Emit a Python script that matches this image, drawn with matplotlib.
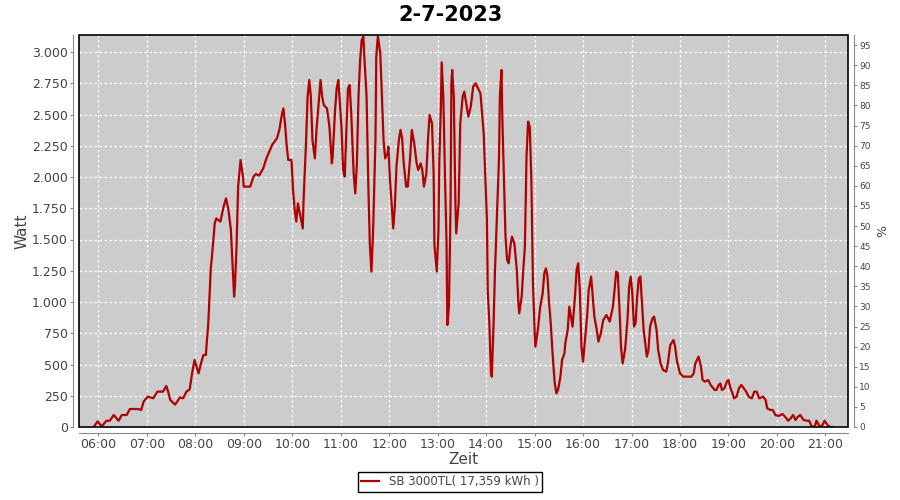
import matplotlib
matplotlib.use("Agg")
import matplotlib.pyplot as plt
import matplotlib.dates as mdates
import matplotlib.ticker as mticker
from matplotlib.patches import Rectangle
import pandas as pd

# ------------------------------------------------------------
# Daten
# ------------------------------------------------------------
zeiten = [
    "05:54", "05:59", "06:04", "06:10", "06:14", "06:19", "06:25", "06:29", "06:35", "06:39",
    "06:49", "06:53", "06:56", "07:01", "07:08", "07:13", "07:20", "07:24", "07:26", "07:29",
    "07:35", "07:41", "07:45", "07:49", "07:53", "07:56", "07:59", "08:04", "08:07", "08:10",
    "08:13", "08:16", "08:17", "08:19", "08:22", "08:24", "08:26", "08:31", "08:35", "08:38",
    "08:41", "08:44", "08:46", "08:48", "08:49", "08:51", "08:53", "08:56", "08:59", "09:00",
    "09:08", "09:12", "09:15", "09:19", "09:24", "09:28", "09:32", "09:35", "09:41", "09:44",
    "09:47", "09:49", "09:51", "09:53", "09:55", "09:59", "10:01", "10:03", "10:05", "10:07",
    "10:09", "10:13", "10:14", "10:17", "10:19", "10:21", "10:23", "10:25", "10:28", "10:30",
    "10:32", "10:35", "10:37", "10:39", "10:43", "10:46", "10:49", "10:50", "10:53", "10:55",
    "10:57", "10:59", "11:01", "11:03", "11:05", "11:07", "11:09", "11:11", "11:13", "11:16",
    "11:18", "11:20", "11:22", "11:24", "11:26", "11:28", "11:29", "11:32", "11:34", "11:36",
    "11:38", "11:40", "11:43", "11:44", "11:46", "11:49", "11:51", "11:53", "11:55", "11:58",
    "11:59", "12:01", "12:03", "12:05", "12:07", "12:09", "12:12", "12:14", "12:16", "12:18",
    "12:21", "12:23", "12:26", "12:28", "12:31", "12:34", "12:36", "12:39", "12:41", "12:43",
    "12:46", "12:48", "12:50", "12:53", "12:55", "12:56", "12:59", "13:01", "13:02", "13:04",
    "13:05", "13:07", "13:09", "13:11", "13:12", "13:14", "13:16", "13:17", "13:18", "13:20",
    "13:22", "13:23", "13:26", "13:28", "13:31", "13:33", "13:36", "13:38", "13:41", "13:44",
    "13:47", "13:50", "13:53", "13:55", "13:57", "13:59", "14:01", "14:02", "14:04", "14:06",
    "14:07", "14:09", "14:11", "14:14", "14:16", "14:17", "14:19", "14:20", "14:22", "14:24",
    "14:26", "14:28", "14:30", "14:32", "14:35", "14:38", "14:40", "14:41", "14:44", "14:46",
    "14:48", "14:50", "14:52", "14:54", "14:56", "14:58", "15:00", "15:01", "15:04", "15:07",
    "15:10", "15:12", "15:14", "15:16", "15:18", "15:20", "15:22", "15:24", "15:25", "15:27",
    "15:29", "15:32", "15:34", "15:37", "15:38", "15:41", "15:43", "15:45", "15:47", "15:50",
    "15:52", "15:54", "15:56", "15:58", "16:00", "16:02", "16:05", "16:07", "16:10", "16:11",
    "16:14", "16:17", "16:19", "16:22", "16:25", "16:29", "16:33", "16:37", "16:39", "16:41",
    "16:43", "16:45", "16:47", "16:49", "16:52", "16:55", "16:57", "16:59", "17:01", "17:03",
    "17:05", "17:07", "17:09", "17:11", "17:13", "17:15", "17:19", "17:21", "17:23", "17:26",
    "17:28", "17:31", "17:33", "17:36", "17:39", "17:43", "17:45", "17:48", "17:52", "17:54",
    "17:56", "18:00", "18:04", "18:08", "18:14", "18:17", "18:19", "18:21", "18:23", "18:26",
    "18:28", "18:31", "18:35", "18:38", "18:43", "18:45", "18:48", "18:50", "18:52", "18:55",
    "18:58", "19:00", "19:02", "19:05", "19:07", "19:10", "19:13", "19:16", "19:19", "19:22",
    "19:25", "19:29", "19:32", "19:35", "19:38", "19:43", "19:46", "19:48", "19:52", "19:55",
    "19:58", "20:02", "20:07", "20:10", "20:14", "20:17", "20:20", "20:23", "20:26", "20:29",
    "20:33", "20:37", "20:40", "20:43", "20:47", "20:49", "20:53", "20:56", "20:59", "21:03",
    "21:06", "21:09",
]

watt = [
    0, 45, 5, 50, 50, 96, 50, 96, 96, 144,
    144, 136, 203, 243, 230, 283, 283, 328, 290, 216,
    179, 237, 230, 283, 301, 429, 536, 429, 509, 576,
    576, 829, 963, 1256, 1469, 1629, 1669, 1643, 1763, 1829,
    1736, 1576, 1309, 1043, 1122, 1443, 1923, 2136, 2003, 1923,
    1923, 2003, 2024, 2011, 2069, 2149, 2211, 2256, 2309, 2376,
    2496, 2549, 2429, 2256, 2136, 2136, 1896, 1736, 1643, 1789,
    1723, 1589, 1816, 2269, 2643, 2776, 2643, 2296, 2149, 2376,
    2536, 2776, 2643, 2576, 2549, 2403, 2109, 2163, 2536, 2709,
    2776, 2589, 2389, 2056, 2003, 2376, 2709, 2736, 2509, 2029,
    1869, 2109, 2643, 2936, 3096, 3123, 2989, 2643, 1976, 1469,
    1243, 1549, 2296, 2963, 3128, 2989, 2643, 2296, 2149, 2189,
    2243, 1976, 1789, 1589, 1763, 2083, 2296, 2376, 2309, 2109,
    1923, 1923, 2163, 2376, 2269, 2109, 2056, 2109, 2056, 1923,
    2029, 2296, 2496, 2429, 2029, 1456, 1243, 1576, 2109, 2563,
    2917, 2643, 2029, 1469, 816, 963, 1789, 2749, 2856, 2643,
    1789, 1549, 1789, 2429, 2643, 2683, 2563, 2483, 2563, 2723,
    2749, 2709, 2669, 2509, 2349, 2003, 1656, 1096, 829, 429,
    403, 776, 1256, 1789, 2163, 2643, 2856, 2483, 2003, 1523,
    1336, 1309, 1443, 1523, 1469, 1256, 989, 909, 1043, 1256,
    1443, 2163, 2443, 2403, 1976, 1149, 776, 643, 776, 963,
    1069, 1229, 1269, 1203, 989, 829, 616, 429, 349, 269,
    296, 403, 536, 589, 669, 776, 963, 883, 803, 1043,
    1256, 1309, 1096, 643, 523, 669, 883, 1096, 1203, 1122,
    883, 776, 683, 749, 856, 896, 843, 963, 1096, 1243,
    1230, 963, 643, 509, 616, 856, 1122, 1203, 1069, 803,
    829, 1043, 1189, 1203, 989, 776, 563, 616, 803, 869,
    883, 776, 616, 509, 456, 443, 509, 656, 696, 643,
    536, 429, 403, 403, 403, 429, 509, 536, 563, 483,
    376, 363, 376, 336, 296, 296, 336, 349, 296, 309,
    363, 376, 323, 269, 229, 243, 309, 336, 309, 283,
    243, 229, 283, 283, 229, 243, 216, 149, 136, 136,
    96, 88, 104, 83, 50, 69, 96, 56, 83, 96,
    56, 50, 50, 5, 5, 50, 5, 10, 50, 13,
    0, 0,
]

datum = "2023-07-02"
titel = "2-7-2023"
legende = "SB 3000TL( 17,359 kWh )"
nennleistung = 3216  # Watt fuer 100 %

# ------------------------------------------------------------
# Diagramm
# ------------------------------------------------------------
zeit = pd.to_datetime([f"{datum} {z}" for z in zeiten])

text_farbe = "#444444"
achsen_farbe = "#888888"

fig = plt.figure(figsize=(9, 5), dpi=100)
ax = fig.add_axes([0.0878, 0.146, 0.8544, 0.784])
ax.set_facecolor("#CCCCCC")

linie, = ax.plot(zeit, watt, color="#B00000", linewidth=1.6, label=legende)

ax.set_xlim(pd.Timestamp(f"{datum} 05:36"), pd.Timestamp(f"{datum} 21:28"))
ax.set_ylim(0, 3136)

ax.xaxis.set_major_locator(mdates.HourLocator())
ax.xaxis.set_major_formatter(mdates.DateFormatter("%H:%M"))
ax.yaxis.set_major_locator(mticker.MultipleLocator(250))
ax.yaxis.set_major_formatter(
    mticker.FuncFormatter(lambda v, p: f"{v:,.0f}".replace(",", "."))
)

ax.grid(True, color="white", linestyle=(0, (2, 2)), linewidth=0.9)

for seite in ["top", "right"]:
    ax.spines[seite].set_visible(False)
for seite in ["left", "bottom"]:
    ax.spines[seite].set_position(("outward", 4))
    ax.spines[seite].set_color(achsen_farbe)

ax.tick_params(axis="both", colors=achsen_farbe, labelcolor=text_farbe,
               labelsize=9, length=2, pad=2)

# schwarzer Rahmen um die Zeichenflaeche
ax.add_patch(Rectangle((0, 0), 1, 1, transform=ax.transAxes, fill=False,
                       edgecolor="black", linewidth=1.2, clip_on=False, zorder=5))

ax.set_xlabel("Zeit", fontsize=11, color=text_farbe, labelpad=1)
ax.set_ylabel("Watt", fontsize=11, color=text_farbe, labelpad=2)

# rechte Achse in Prozent
ax2 = ax.twinx()
ax2.set_ylim(0, 3136 / nennleistung * 100)
ax2.yaxis.set_major_locator(mticker.MultipleLocator(5))
for seite in ["top", "left", "bottom"]:
    ax2.spines[seite].set_visible(False)
ax2.spines["right"].set_position(("outward", 4))
ax2.spines["right"].set_color(achsen_farbe)
ax2.tick_params(axis="y", colors=achsen_farbe, labelcolor=text_farbe,
                labelsize=6.5, length=2, pad=2)
ax2.set_ylabel("%", fontsize=9, color=text_farbe, labelpad=4)

fig.suptitle(titel, fontsize=15, fontweight="bold", y=0.99)

fig.legend(handles=[linie], loc="lower center", bbox_to_anchor=(0.5, 0.005),
           fancybox=False, edgecolor="black", framealpha=1, fontsize=8.5,
           handlelength=1.5, borderpad=0.3, labelcolor=text_farbe)

plt.savefig("out.png", dpi=100)
plt.close()
